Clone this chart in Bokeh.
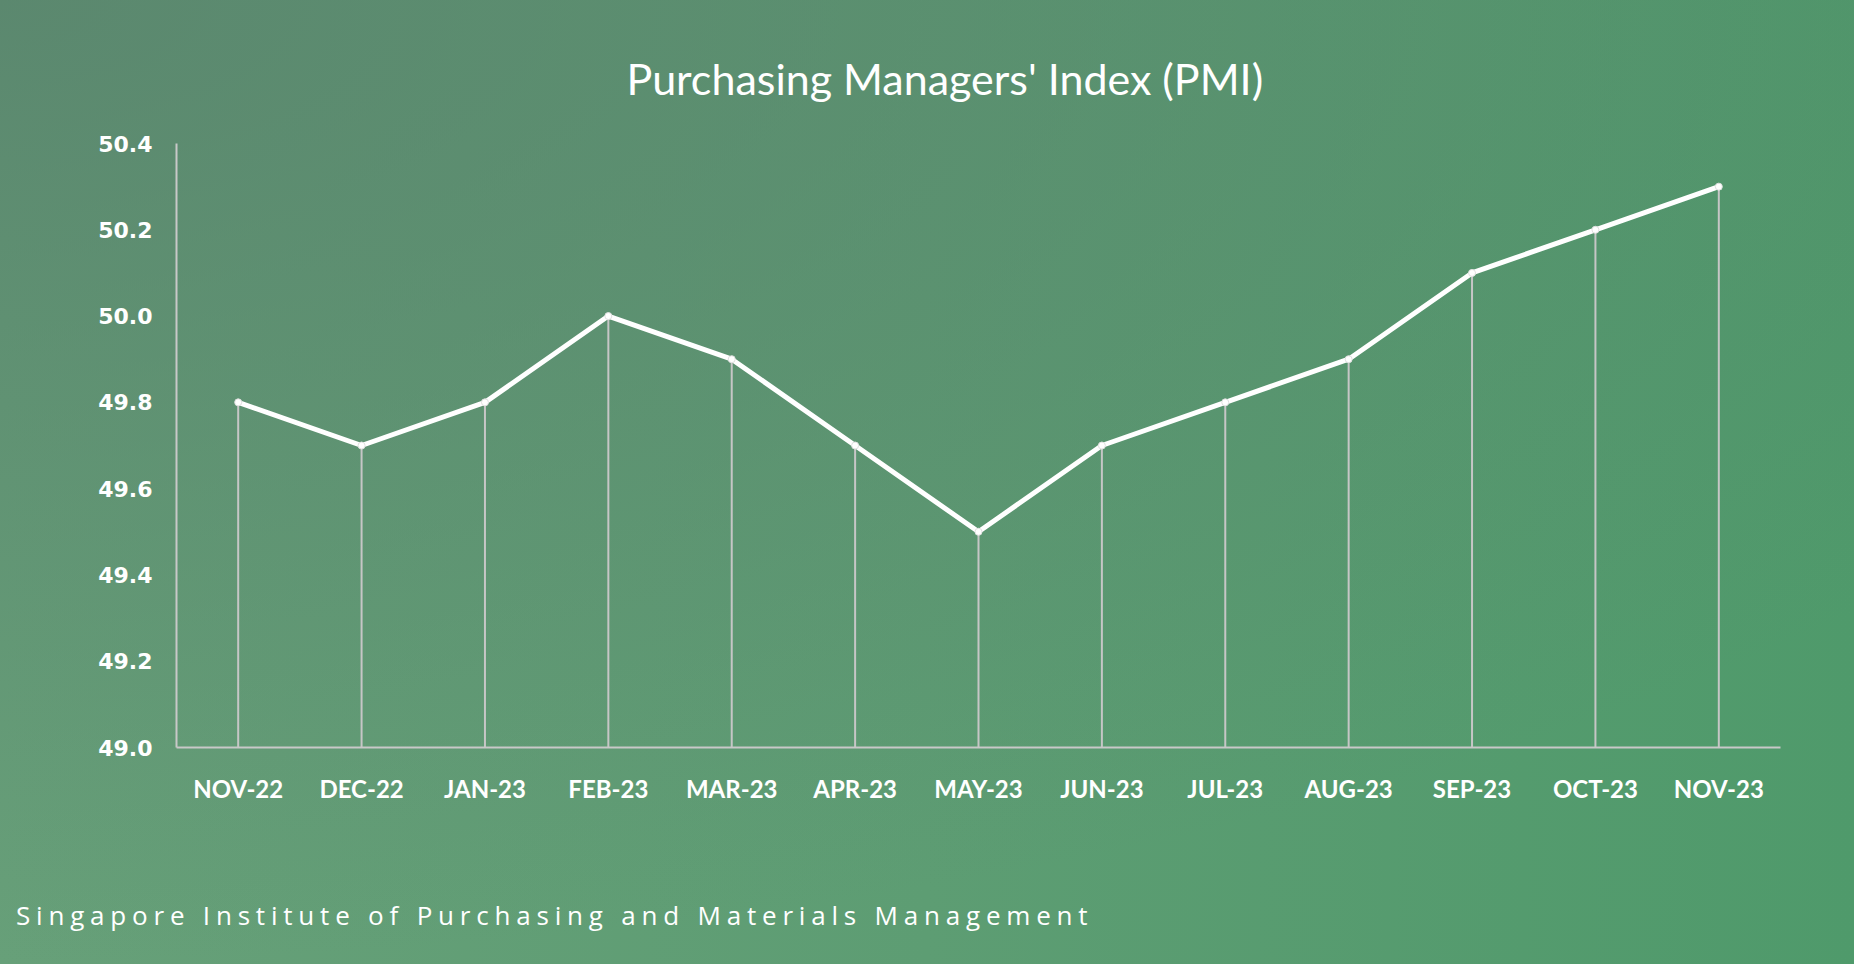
from bokeh.plotting import figure
from bokeh.models import ColumnDataSource, FixedTicker, Div, Range1d, NumeralTickFormatter
from bokeh.layouts import column
from bokeh.embed import file_html
from bokeh.resources import INLINE

months = ["NOV-22", "DEC-22", "JAN-23", "FEB-23", "MAR-23", "APR-23", "MAY-23",
          "JUN-23", "JUL-23", "AUG-23", "SEP-23", "OCT-23", "NOV-23"]
pmi = [49.8, 49.7, 49.8, 50.0, 49.9, 49.7, 49.5, 49.7, 49.8, 49.9, 50.1, 50.2, 50.3]
y_ticks = [49.0, 49.2, 49.4, 49.6, 49.8, 50.0, 50.2, 50.4]
title_text = "Purchasing Managers' Index (PMI)"
footer_text = "Singapore Institute of Purchasing and Materials Management"

base = [y_ticks[0]] * len(months)
src = ColumnDataSource(dict(m=months, v=pmi, b=base))

W, H = 1854, 870
p = figure(x_range=months, y_range=Range1d(y_ticks[0], y_ticks[-1]),
           width=W, height=H, output_backend="svg", toolbar_location=None,
           min_border_left=176, min_border_right=74, min_border_top=143, min_border_bottom=123)
p.background_fill_color = None
p.border_fill_color = None
p.outline_line_color = None
p.xgrid.grid_line_color = None
p.ygrid.grid_line_color = None

p.title.text = title_text
p.title.align = "left"
p.title.offset = 450
p.title.standoff = 79
p.title.text_font = "Lato"
p.title.text_font_style = "normal"
p.title.text_font_size = "43px"
p.title.text_color = "white"

p.segment(x0="m", y0="b", x1="m", y1="v", source=src, line_color="#c6c6c6", line_width=2)
p.line(x="m", y="v", source=src, line_color="white", line_width=5,
       line_join="round", line_cap="round")
p.scatter(x="m", y="v", source=src, size=7, fill_color="white", line_color="#e0e0e0")

for ax in (p.xaxis[0], p.yaxis[0]):
    ax.axis_line_color = "#c8c8c8"
    ax.axis_line_width = 2
    ax.major_tick_line_color = None
    ax.minor_tick_line_color = None
    ax.major_tick_out = 0
    ax.major_tick_in = 0
    ax.major_label_text_color = "white"

p.yaxis.ticker = FixedTicker(ticks=y_ticks)
p.yaxis.formatter = NumeralTickFormatter(format="0.0")
p.yaxis.major_label_text_font = "DejaVu Sans"
p.yaxis.major_label_text_font_style = "bold"
p.yaxis.major_label_text_font_size = "22px"
p.yaxis.major_label_standoff = 24

p.xaxis.major_label_text_font = "Lato"
p.xaxis.major_label_text_font_style = "bold"
p.xaxis.major_label_text_font_size = "24px"
p.xaxis.major_label_standoff = 26

footer = Div(text=footer_text, width=W, height=964 - H,
             styles={"font-family": "'Open Sans'", "font-size": "26px", "letter-spacing": "5.8px",
                     "color": "white", "padding-left": "11px", "padding-top": "22px",
                     "box-sizing": "border-box", "white-space": "nowrap"})

layout = column(p, footer, width=W, height=964, spacing=0,
                styles={"background": "radial-gradient(ellipse 130% 100% at 0% 0%, rgba(88,130,108,0.8), rgba(88,130,108,0) 100%), "
                                      "linear-gradient(to right, #67a079 0%, #5d9d73 50%, #4f9a6b 100%)"})

open("out.html", "w").write(file_html(layout, INLINE))
